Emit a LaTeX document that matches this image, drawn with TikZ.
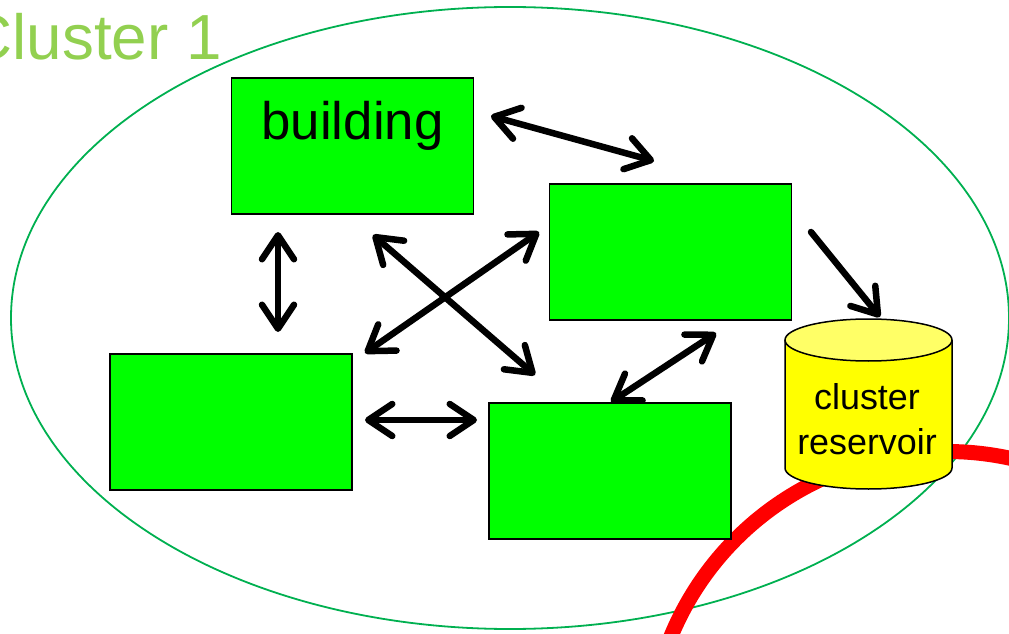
\documentclass[tikz,border=0pt]{standalone}
\usepackage{fontspec}
\setmainfont{Liberation Sans}
\usetikzlibrary{arrows.meta}
\definecolor{ellgreen}{RGB}{0,176,80}
\definecolor{titlegreen}{RGB}{146,208,80}
\definecolor{boxgreen}{RGB}{0,255,0}
\definecolor{cylbody}{RGB}{255,255,0}
\definecolor{cyltop}{RGB}{255,255,102}
\definecolor{pipered}{RGB}{255,0,0}
\tikzset{
  bldg/.style={draw=black, line width=1.5bp, fill=boxgreen, minimum width=242bp, minimum height=136bp, inner sep=0pt},
  barb/.tip={Straight Barb[length=24bp,width=32bp,line cap=round,line join=round]},
  link/.style={line width=6.5bp, line cap=round, line join=round, barb-barb},
  flow/.style={line width=6.5bp, line cap=round, line join=round, -barb},
}
\begin{document}
\begin{tikzpicture}[x=1bp,y=-1bp]
\useasboundingbox (0,0) rectangle (1009,634);
\begin{scope}
\clip (0,0) rectangle (1009,634);
% cluster boundary
\draw[ellgreen, line width=1.8bp] (510,318) ellipse [x radius=499, y radius=311];
% red pipe
\draw[pipered, line width=15bp] (947,750) ++(198:298.5) arc[start angle=198, end angle=292, radius=298.5];
\end{scope}
% title
\node[font=\fontsize{64}{70}\selectfont, text=titlegreen, anchor=base east, inner sep=0pt] (title) at (222,60) {Cluster 1};
% buildings
\node[bldg] (b1) at (352.5,146) {};
\node[font=\fontsize{53}{60}\selectfont, anchor=base, inner sep=0pt] (b1label) at (352.5,140) {building};
\node[bldg] (b2) at (670.5,252) {};
\node[bldg] (b3) at (231,422) {};
\node[bldg] (b4) at (610,471) {};
% cluster reservoir
\fill[cylbody] (785,340) -- (785,468) arc[start angle=180, end angle=0, x radius=83.5, y radius=21] -- (952,340) -- cycle;
\draw[line width=1.5bp] (785,340) -- (785,468) arc[start angle=180, end angle=0, x radius=83.5, y radius=21] -- (952,340);
\filldraw[fill=cyltop, line width=1.5bp] (868.5,340) ellipse [x radius=83.5, y radius=21];
\node[font=\fontsize{36}{45}\selectfont, align=center, anchor=base, inner sep=0pt] (reservoir) at (867,454) {cluster\\reservoir};
\coordinate (restop) at (880,317);
% arrow end points
\coordinate (p1a) at (491,116);
\coordinate (p1b) at (654,161);
\coordinate (p2a) at (278,232);
\coordinate (p2b) at (278,332);
\coordinate (p3a) at (373,235);
\coordinate (p3b) at (535,375);
\coordinate (p4a) at (539,232);
\coordinate (p4b) at (365,353);
\coordinate (p5a) at (365,420);
\coordinate (p5b) at (477,420);
\coordinate (p6a) at (716,333);
\coordinate (p6b) at (611,402);
\coordinate (p7a) at (811,232);
% connectors
\draw[link] (p1a) -- (p1b);
\draw[link] (p2a) -- (p2b);
\draw[link] (p3a) -- (p3b);
\draw[link] (p4a) -- (p4b);
\draw[link] (p5a) -- (p5b);
\draw[link] (p6a) -- (p6b);
\draw[flow] (p7a) -- (restop);
\end{tikzpicture}
\end{document}
